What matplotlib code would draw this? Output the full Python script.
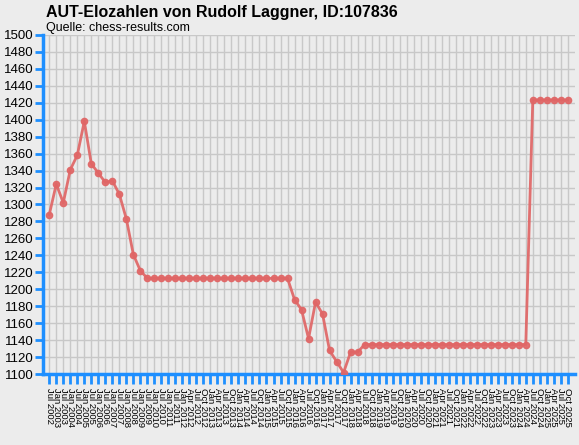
import matplotlib
matplotlib.use('Agg')
import matplotlib.pyplot as plt

plt.rcParams['font.family'] = ['Liberation Sans', 'DejaVu Sans']

# Beschriftungen der x-Achse (erst halbjaehrlich, ab 2012 vierteljaehrlich)
monate = ['Jul 2002']
for jahr in range(2003, 2012):
    monate += ['Jan %d' % jahr, 'Jul %d' % jahr]
monate += ['Jan 2012', 'Apr 2012', 'Jul 2012', 'Oct 2012']
for jahr in range(2013, 2026):
    monate += ['Jan %d' % jahr, 'Apr %d' % jahr, 'Jul %d' % jahr, 'Oct %d' % jahr]

# Elozahlen
elo = [1288, 1324, 1302, 1341, 1358, 1398, 1348, 1337, 1326, 1328,
       1312, 1283, 1241, 1222,
       1213, 1213, 1213, 1213, 1213, 1213, 1213, 1213, 1213, 1213,
       1213, 1213, 1213, 1213, 1213, 1213, 1213, 1213, 1213, 1213, 1213,
       1188, 1176, 1142, 1185, 1171, 1128, 1115, 1102, 1126, 1126,
       1135, 1135, 1135, 1135, 1135, 1135, 1135, 1135, 1135, 1135,
       1135, 1135, 1135, 1135, 1135, 1135, 1135, 1135, 1135, 1135,
       1135, 1135, 1135, 1135,
       1423, 1423, 1423, 1423, 1423, 1423]

y_ticks = list(range(1100, 1501, 20))

bg = '#ececec'
blau = '#1e8fff'

fig = plt.figure(figsize=(5.79, 4.45), dpi=100, facecolor=bg)
ax = fig.add_axes([0.0748, 0.159, 0.918, 0.763])
ax.set_facecolor(bg)

x = list(range(len(elo)))
ax.plot(x, elo, color='#e06666', lw=2, marker='o', markersize=4.5,
        markerfacecolor='#e06666', markeredgecolor='#e06666', alpha=0.92, zorder=3)

ax.set_xlim(-0.85, 75)
ax.set_ylim(1100, 1500)
ax.set_xticks(x)
ax.set_xticklabels(monate, rotation=-90, fontsize=6.8)
ax.set_yticks(y_ticks)
ax.set_yticklabels([str(v) for v in y_ticks], fontsize=9.5)

ax.grid(True, color='#c8c8c8', lw=1)
ax.set_axisbelow(True)

for s in ['top', 'right']:
    ax.spines[s].set_visible(False)
for s in ['left', 'bottom']:
    ax.spines[s].set_color(blau)
    ax.spines[s].set_linewidth(2.5)

ax.tick_params(axis='x', colors=blau, length=7, width=2, pad=3, labelcolor='black')
ax.tick_params(axis='y', colors=blau, length=6, width=2, pad=1, labelcolor='black')

fig.text(46 / 579, 1 - 13 / 445, 'AUT-Elozahlen von Rudolf Laggner, ID:107836',
         fontsize=11.5, fontweight='bold', va='center', ha='left')
fig.text(46 / 579, 1 - 27.5 / 445, 'Quelle: chess-results.com',
         fontsize=9, va='center', ha='left')

fig.savefig('out.png', dpi=100, facecolor=bg)
